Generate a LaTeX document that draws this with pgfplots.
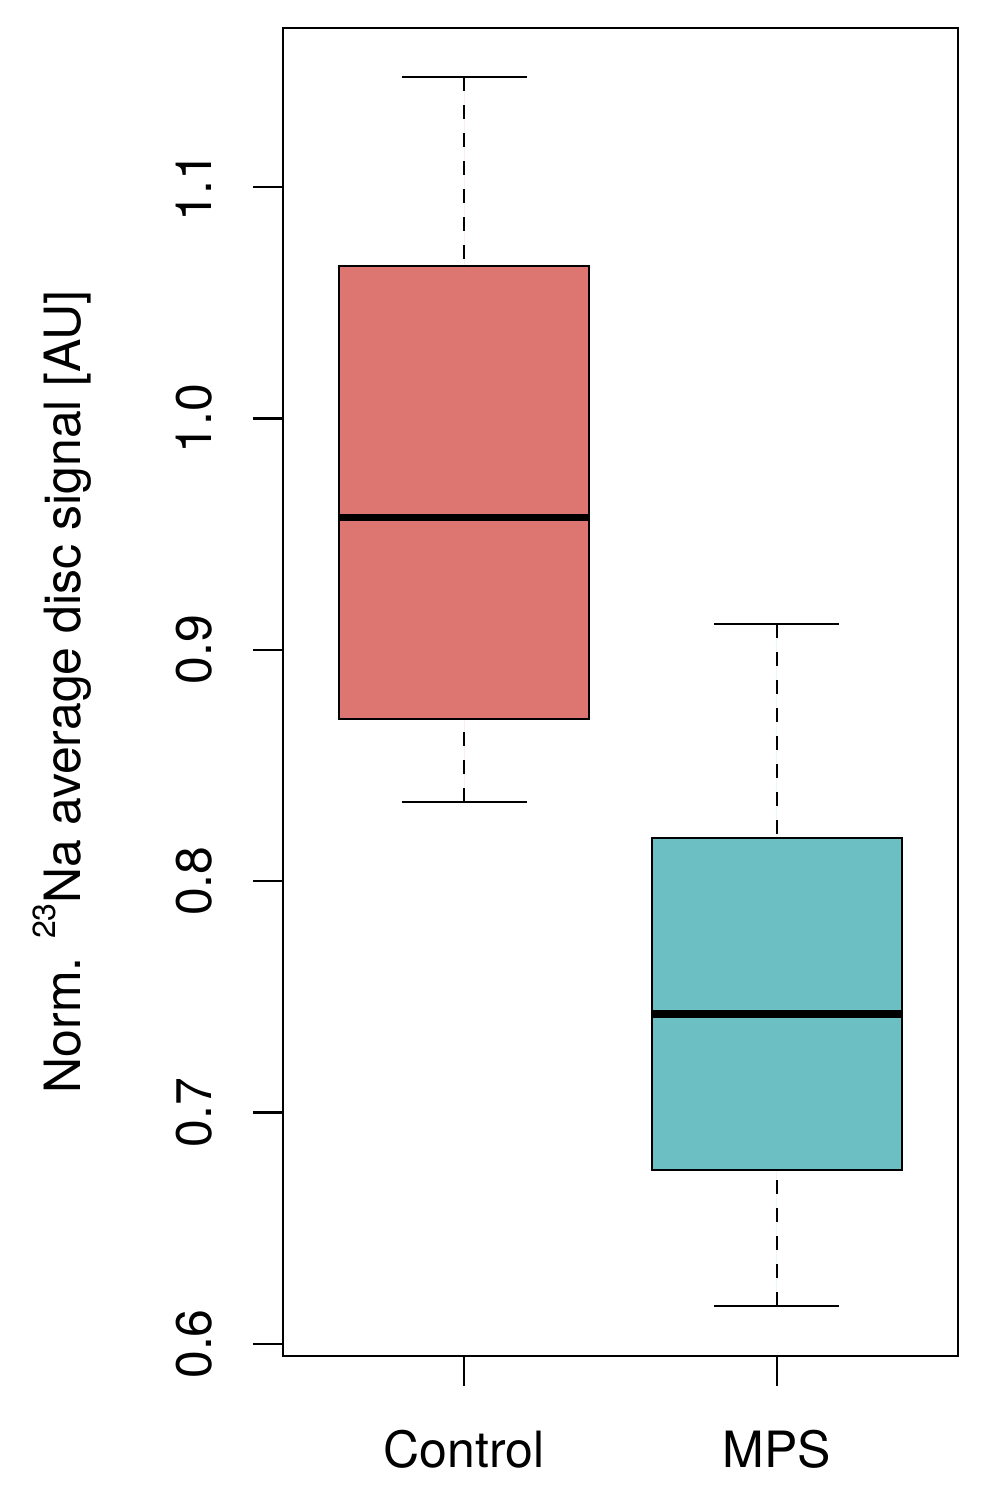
\documentclass[border=0pt]{standalone}
\usepackage{fontspec}
\setmainfont{TeX Gyre Heros}
\usepackage{pgfplots}
\pgfplotsset{compat=1.18}
\usepgfplotslibrary{statistics}
\definecolor{ctrlred}{HTML}{DD7670}
\definecolor{mpsteal}{HTML}{6CBFC3}

\begin{document}
\fontsize{25}{30}\selectfont
\begin{tikzpicture}
\path[use as bounding box] (-141.5pt,-72.5pt) rectangle (350.5pt,678pt);
\begin{axis}[
  scale only axis, width=337.5pt, height=664pt,
  xmin=0.42, xmax=2.58, ymin=0.5948, ymax=1.1688,
  xtick={1,2}, xticklabels={Control,MPS},
  ytick={0.6,0.7,0.8,0.9,1.0,1.1},
  yticklabels={0.6,0.7,0.8,0.9,1.0,1.1},
  xtick pos=bottom, ytick pos=left,
  tick align=outside, major tick length=15pt,
  axis line style={line width=1.2pt},
  every tick/.style={line width=1.2pt, black},
  xticklabel style={anchor=base, inner sep=0pt, yshift=-40.5pt},
  yticklabel style={xshift=-20.5pt, rotate=90, anchor=base, inner sep=0pt},
  ylabel={Norm. \raisebox{12.5pt}{\fontsize{16}{16}\selectfont 23}Na average disc signal [AU]},
  ylabel style={at={(axis description cs:-0.2993,0.5)}, anchor=base, rotate=0, inner sep=0pt},
  boxplot/draw direction=y,
  boxplot/box extend=0.8,
  boxplot/whisker extend=0.4,
  boxplot/every median/.style={line width=3.8pt},
  boxplot/draw/lower whisker/.code={%
    \draw[dash pattern=on 7pt off 7pt]
      (boxplot whisker cs:\pgfplotsboxplotvalue{lower whisker},0.5) --
      (boxplot box cs:\pgfplotsboxplotvalue{lower quartile},0.5);
    \draw
      (boxplot whisker cs:\pgfplotsboxplotvalue{lower whisker},0) --
      (boxplot whisker cs:\pgfplotsboxplotvalue{lower whisker},1);
  },
  boxplot/draw/upper whisker/.code={%
    \draw[dash pattern=on 7pt off 7pt]
      (boxplot whisker cs:\pgfplotsboxplotvalue{upper whisker},0.5) --
      (boxplot box cs:\pgfplotsboxplotvalue{upper quartile},0.5);
    \draw
      (boxplot whisker cs:\pgfplotsboxplotvalue{upper whisker},0) --
      (boxplot whisker cs:\pgfplotsboxplotvalue{upper whisker},1);
  },
]
% Control
\addplot[draw=black, fill=ctrlred, line width=1.2pt,
  boxplot prepared={draw position=1,
    lower whisker=0.8343, lower quartile=0.8702, median=0.9572,
    upper quartile=1.0658, upper whisker=1.1476}]
  coordinates {};
% MPS
\addplot[draw=black, fill=mpsteal, line width=1.2pt,
  boxplot prepared={draw position=2,
    lower whisker=0.6164, lower quartile=0.6753, median=0.7425,
    upper quartile=0.8186, upper whisker=0.9112}]
  coordinates {};
\end{axis}
\end{tikzpicture}
\end{document}
